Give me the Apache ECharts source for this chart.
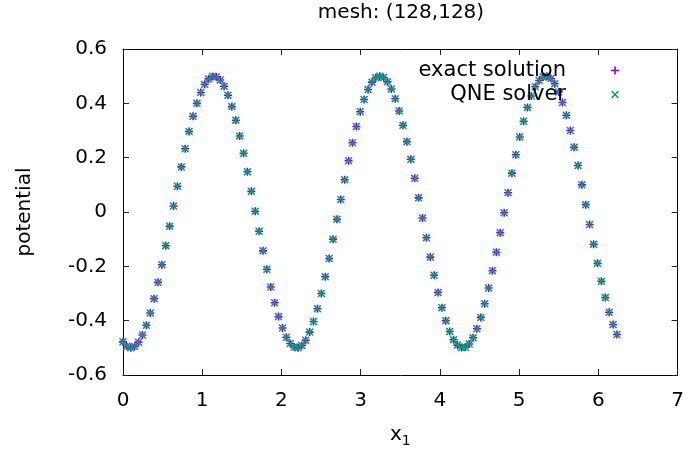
<!DOCTYPE html>
<html>
<head>
<meta charset="utf-8">
<script src="https://cdn.jsdelivr.net/npm/echarts@6/dist/echarts.min.js"></script>
<style>
  html, body { margin: 0; padding: 0; background: #fff; }
  #main { width: 687px; height: 457px; }
</style>
</head>
<body>
<div id="main"></div>
<script>
// x_1 positions of the 128 mesh points
const xValues = [
  0.000, 0.049, 0.098, 0.147, 0.196, 0.245, 0.295, 0.344, 0.393, 0.442, 0.491, 0.540, 0.589, 0.638, 0.687, 0.736,
  0.785, 0.834, 0.884, 0.933, 0.982, 1.031, 1.080, 1.129, 1.178, 1.227, 1.276, 1.325, 1.374, 1.424, 1.473, 1.522,
  1.571, 1.620, 1.669, 1.718, 1.767, 1.816, 1.865, 1.914, 1.963, 2.013, 2.062, 2.111, 2.160, 2.209, 2.258, 2.307,
  2.356, 2.405, 2.454, 2.503, 2.553, 2.602, 2.651, 2.700, 2.749, 2.798, 2.847, 2.896, 2.945, 2.994, 3.043, 3.093,
  3.142, 3.191, 3.240, 3.289, 3.338, 3.387, 3.436, 3.485, 3.534, 3.583, 3.633, 3.682, 3.731, 3.780, 3.829, 3.878,
  3.927, 3.976, 4.025, 4.074, 4.123, 4.172, 4.221, 4.271, 4.320, 4.369, 4.418, 4.467, 4.516, 4.565, 4.614, 4.663,
  4.712, 4.761, 4.811, 4.860, 4.909, 4.958, 5.007, 5.056, 5.105, 5.154, 5.203, 5.252, 5.301, 5.351, 5.400, 5.449,
  5.498, 5.547, 5.596, 5.645, 5.694, 5.743, 5.792, 5.841, 5.890, 5.940, 5.989, 6.038, 6.087, 6.136, 6.185, 6.234
]

const exactSolution = [
  -0.478, -0.494, -0.500, -0.495, -0.479, -0.453, -0.417, -0.372, -0.319, -0.259, -0.194, -0.124, -0.052, 0.022, 0.095, 0.166,
  0.233, 0.296, 0.352, 0.400, 0.440, 0.470, 0.490, 0.499, 0.498, 0.486, 0.463, 0.430, 0.388, 0.338, 0.280, 0.216,
  0.148, 0.076, 0.003, -0.071, -0.143, -0.211, -0.276, -0.334, -0.385, -0.427, -0.461, -0.484, -0.497, -0.500, -0.491, -0.472,
  -0.442, -0.403, -0.356, -0.300, -0.238, -0.171, -0.100, -0.027, 0.046, 0.119, 0.189, 0.255, 0.315, 0.369, 0.414, 0.451,
  0.478, 0.494, 0.500, 0.495, 0.479, 0.453, 0.417, 0.372, 0.319, 0.259, 0.194, 0.124, 0.052, -0.022, -0.095, -0.166,
  -0.233, -0.296, -0.352, -0.400, -0.440, -0.470, -0.490, -0.499, -0.498, -0.486, -0.463, -0.430, -0.388, -0.338, -0.280, -0.216,
  -0.148, -0.076, -0.003, 0.071, 0.143, 0.211, 0.276, 0.334, 0.385, 0.427, 0.461, 0.484, 0.497, 0.500, 0.491, 0.472,
  0.442, 0.403, 0.356, 0.300, 0.238, 0.171, 0.100, 0.027, -0.046, -0.119, -0.189, -0.255, -0.315, -0.369, -0.414, -0.451
]

// solver points sit right on top of the exact ones in the picture
const qneSolver = exactSolution.slice()

const xTicks = [0, 7, 1]
const yTicks = [-0.6, 0.6, 0.2]

const plusPath = 'path://M3.2,0h1.6v8h-1.6zM0,3.2h8v1.6h-8z'
const crossPath = 'path://M0,1.1L1.1,0L8,6.9L6.9,8ZM6.9,0L8,1.1L1.1,8L0,6.9Z'

const font = 'DejaVu Sans'

const pairs = (ys) => xValues.map((x, i) => [x, ys[i]])

const axisBase = {
  type: 'value',
  splitLine: { show: false },
  axisLine: { show: true, onZero: false, lineStyle: { color: '#000', width: 1 } },
  axisTick: { show: true, inside: true, length: 6, lineStyle: { color: '#222' } }
}

const legendBase = {
  padding: 0,
  align: 'right',
  itemWidth: 88, itemHeight: 8,
  textStyle: { fontFamily: font, fontSize: 21, color: '#000' }
}

var myChart = echarts.init(document.getElementById('main'))
myChart.setOption({
  animation: false,
  backgroundColor: '#fff',
  title: {
    text: 'mesh: (128,128)',
    left: 401,
    textAlign: 'center',
    top: 3,
    padding: 0,
    textStyle: { fontFamily: font, fontSize: 20, fontWeight: 'normal', color: '#000' }
  },
  grid: { left: 123, right: 9, top: 49, bottom: 82 },
  legend: [
    Object.assign({}, legendBase, { data: ['exact solution'], right: 68, top: 60 }),
    Object.assign({}, legendBase, { data: ['QNE solver'], right: 68, top: 84 })
  ],
  xAxis: [
    Object.assign({}, axisBase, {
      min: xTicks[0], max: xTicks[1], interval: xTicks[2],
      position: 'bottom',
      axisLabel: { fontFamily: font, fontSize: 20, color: '#000', margin: 16 },
      name: '{x|x}{s|1}',
      nameLocation: 'middle',
      nameGap: 47,
      nameTextStyle: {
        rich: {
          x: { fontFamily: font, fontSize: 20, color: '#000' },
          s: { fontFamily: font, fontSize: 14, color: '#000', verticalAlign: 'bottom', padding: [12, 0, 0, 0] }
        }
      }
    }),
    Object.assign({}, axisBase, {
      min: xTicks[0], max: xTicks[1], interval: xTicks[2],
      position: 'top',
      axisLabel: { show: false }
    })
  ],
  yAxis: [
    Object.assign({}, axisBase, {
      min: yTicks[0], max: yTicks[1], interval: yTicks[2],
      position: 'left',
      axisLabel: {
        fontFamily: font, fontSize: 20, color: '#000', margin: 16,
        formatter: (v) => (Math.abs(v) < 1e-9 ? '0' : v.toFixed(1))
      },
      name: 'potential',
      nameLocation: 'middle',
      nameRotate: 90,
      nameGap: 88,
      nameTextStyle: { fontFamily: font, fontSize: 20, color: '#000' }
    }),
    Object.assign({}, axisBase, {
      min: yTicks[0], max: yTicks[1], interval: yTicks[2],
      position: 'right',
      axisLabel: { show: false }
    })
  ],
  series: [
    {
      name: 'exact solution',
      type: 'scatter',
      symbol: plusPath,
      symbolSize: 8,
      itemStyle: { color: '#9400d3', opacity: 1 },
      data: pairs(exactSolution)
    },
    {
      name: 'QNE solver',
      type: 'scatter',
      symbol: crossPath,
      symbolSize: 8,
      itemStyle: { color: '#009e73', opacity: 1 },
      data: pairs(qneSolver)
    }
  ]
})
</script>
</body>
</html>
